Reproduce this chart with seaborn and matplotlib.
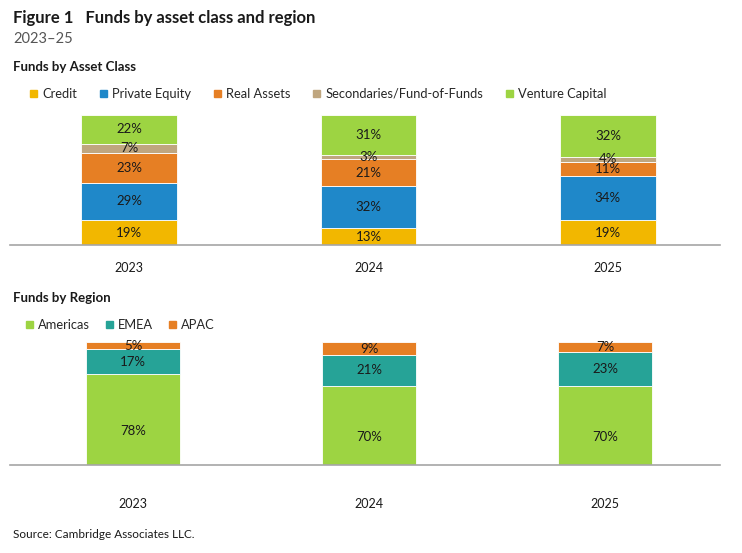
import matplotlib
matplotlib.use("Agg")
import matplotlib.pyplot as plt
import matplotlib.patches as mpatches
import numpy as np
import pandas as pd
import seaborn as sns

# Data
years = ["2023", "2024", "2025"]

asset_classes = ["Credit", "Private Equity", "Real Assets",
                 "Secondaries/Fund-of-Funds", "Venture Capital"]
credit = [19, 13, 19]
private_equity = [29, 32, 34]
real_assets = [23, 21, 11]
secondaries = [7, 3, 4]
venture = [22, 31, 32]

regions = ["Americas", "EMEA", "APAC"]
americas = [78, 70, 70]
emea = [17, 21, 23]
apac = [5, 9, 7]

asset_colors = ["#F2B700", "#1F88C9", "#E67F24", "#BFA67F", "#9DD442"]
region_colors = ["#9DD442", "#26A397", "#E67F24"]

sns.set_theme(style="white")
plt.rcParams["font.family"] = ["Lato", "DejaVu Sans"]

fig = plt.figure(figsize=(7.42, 5.53), dpi=100)
ax1 = fig.add_axes([10 / 742, 1 - 245 / 553, 710 / 742, 130 / 553])
ax2 = fig.add_axes([10 / 742, 1 - 465 / 553, 710 / 742, 123 / 553])


def stacked(ax, names, series, colors, xlim, ylim, pad):
    bottom = np.zeros(len(years))
    for name, vals, col in zip(names, series, colors):
        df = pd.DataFrame({"year": years, "value": vals})
        sns.barplot(data=df, x="year", y="value", bottom=bottom, color=col,
                    width=0.4, edgecolor="white", linewidth=0.6, ax=ax,
                    saturation=1)
        for i, v in enumerate(vals):
            ax.text(i, bottom[i] + v / 2, f"{v}%", ha="center", va="center",
                    fontsize=9.5, color="#1a1a1a")
        bottom = bottom + np.array(vals)
    ax.set_ylim(*ylim)
    ax.set_xlim(*xlim)
    ax.set_xlabel("")
    ax.set_ylabel("")
    ax.set_yticks([])
    sns.despine(ax=ax, left=True)
    ax.spines["bottom"].set_color("#A6A6A6")
    ax.spines["bottom"].set_linewidth(1.2)
    ax.tick_params(axis="x", length=0, pad=pad, labelsize=9, colors="#1a1a1a")


stacked(ax1, asset_classes, [credit, private_equity, real_assets, secondaries, venture],
        asset_colors, (-0.497, 2.468), (0, 100), 12)
# the region panel is cut off a little above zero in the original
stacked(ax2, regions, [americas, emea, apac], region_colors,
        (-0.521, 2.487), (15.75, 100), 24)

# Titles
fig.text(13 / 742, 1 - 18 / 553, "Figure 1   Funds by asset class and region",
         fontsize=12, fontweight="bold", color="#1a1a1a", va="center")
fig.text(13 / 742, 1 - 39 / 553, "2023\u201325", fontsize=10.5,
         color="#555555", va="center")
fig.text(13 / 742, 1 - 67 / 553, "Funds by Asset Class", fontsize=9.5,
         fontweight="bold", color="#1a1a1a", va="center")
fig.text(13 / 742, 1 - 298 / 553, "Funds by Region", fontsize=9.5,
         fontweight="bold", color="#1a1a1a", va="center")
fig.text(13 / 742, 1 - 535 / 553, "Source: Cambridge Associates LLC.",
         fontsize=8.5, color="#1a1a1a", va="center")

# Legends
h1 = [mpatches.Patch(color=c, label=n) for n, c in zip(asset_classes, asset_colors)]
fig.legend(handles=h1, loc="center left", bbox_to_anchor=(30 / 742, 1 - 94 / 553),
           ncol=5, frameon=False, fontsize=9.3, handlelength=0.55,
           handleheight=0.55, handletextpad=0.4, columnspacing=1.75,
           borderaxespad=0, borderpad=0)
h2 = [mpatches.Patch(color=c, label=n) for n, c in zip(regions, region_colors)]
fig.legend(handles=h2, loc="center left", bbox_to_anchor=(26 / 742, 1 - 325 / 553),
           ncol=3, frameon=False, fontsize=9.3, handlelength=0.55,
           handleheight=0.55, handletextpad=0.4, columnspacing=1.2,
           borderaxespad=0, borderpad=0)

fig.savefig("out.png", dpi=100)
